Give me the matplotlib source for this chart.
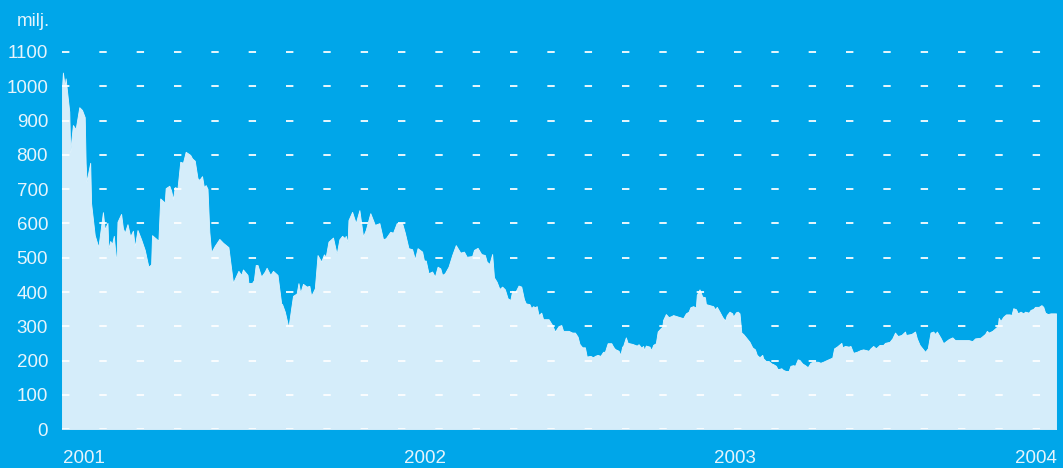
import matplotlib.pyplot as plt

# days since start of 2001 and value (milj.)
days = [0, 1, 3, 4, 8, 9, 12, 15, 19, 22, 25, 26, 27, 31, 32, 36, 40, 45, 47, 50,
        51, 53, 55, 57, 59, 60, 61, 65, 67, 69, 72, 75, 78, 80, 83, 87, 91, 95, 98, 99,
        106, 108, 113, 114, 118, 120, 122, 124, 127, 130, 133, 136, 141, 143, 146, 149, 151, 154, 156, 158,
        160, 162, 164, 168, 173, 177, 183, 185, 188, 194, 197, 199, 204, 205, 209, 211, 213, 215, 219, 223,
        225, 229, 232, 237, 241, 242, 245, 249, 252, 254, 258, 260, 262, 265, 269, 272, 274, 278, 281, 285,
        288, 290, 293, 298, 302, 305, 308, 311, 312, 314, 315, 319, 323, 327, 331, 334, 339, 344, 349, 353,
        356, 361, 364, 368, 374, 377, 381, 385, 388, 391, 396, 398, 400, 403, 407, 410, 413, 416, 418, 421,
        425, 429, 433, 438, 442, 445, 451, 453, 457, 461, 465, 467, 470, 473, 475, 478, 481, 484, 487, 490,
        493, 495, 498, 502, 505, 508, 510, 514, 516, 518, 520, 522, 524, 527, 529, 535, 539, 542, 546, 549,
        551, 557, 561, 564, 567, 569, 572, 575, 577, 581, 584, 586, 589, 592, 595, 597, 600, 604, 606, 608,
        612, 614, 616, 617, 620, 622, 627, 632, 634, 637, 639, 640, 642, 646, 648, 650, 653, 655, 658, 660,
        661, 664, 667, 670, 672, 678, 683, 686, 689, 691, 694, 697, 698, 701, 704, 707, 708, 712, 716, 718,
        720, 723, 726, 729, 731, 734, 737, 738, 741, 743, 745, 747, 749, 753, 756, 759, 762, 764, 767, 770,
        771, 774, 777, 780, 782, 785, 787, 791, 793, 796, 799, 801, 804, 806, 809, 811, 814, 817, 820, 823,
        826, 831, 834, 837, 841, 847, 849, 852, 857, 858, 861, 865, 867, 870, 874, 878, 881, 887, 889, 892,
        895, 899, 903, 905, 910, 913, 916, 919, 923, 927, 928, 934, 938, 940, 943, 946, 949, 952, 955, 958,
        960, 962, 966, 969, 975, 979, 982, 990, 997, 1001, 1004, 1010, 1015, 1017, 1019, 1023, 1026, 1029, 1030, 1032,
        1035, 1038, 1042, 1044, 1046, 1049, 1051, 1054, 1057, 1059, 1063, 1065, 1068, 1070, 1074, 1077, 1079, 1081, 1084, 1087,
        1093]
values = [995, 1040, 999, 1023, 926, 809, 887, 875, 939, 931, 910, 776, 722, 777, 659, 566, 531, 633, 583, 602,
          525, 549, 540, 564, 503, 501, 605, 628, 586, 573, 598, 562, 579, 532, 581, 554, 523, 474, 481, 566,
          550, 673, 661, 703, 710, 696, 671, 706, 703, 780, 777, 809, 800, 790, 783, 732, 727, 738, 706, 712,
          701, 576, 516, 535, 555, 544, 531, 489, 427, 462, 450, 466, 450, 426, 427, 435, 479, 479, 445, 460,
          471, 450, 462, 450, 367, 365, 343, 297, 353, 389, 396, 426, 398, 424, 416, 418, 389, 411, 508, 489,
          510, 503, 547, 559, 511, 554, 564, 557, 564, 544, 610, 634, 601, 639, 562, 581, 630, 596, 601, 554,
          557, 576, 573, 601, 601, 573, 528, 525, 496, 528, 518, 492, 492, 455, 460, 445, 474, 469, 450, 455,
          474, 508, 537, 515, 518, 503, 505, 523, 529, 511, 508, 489, 482, 511, 443, 430, 409, 416, 408, 382,
          377, 404, 398, 419, 416, 379, 367, 365, 353, 359, 356, 359, 333, 340, 321, 321, 304, 285, 301, 304,
          287, 287, 282, 282, 270, 249, 239, 239, 212, 214, 210, 214, 217, 214, 226, 226, 251, 251, 241, 234,
          229, 217, 241, 243, 268, 252, 249, 244, 248, 238, 243, 231, 244, 241, 231, 246, 251, 285, 294, 299,
          319, 336, 327, 330, 333, 328, 324, 338, 343, 356, 359, 355, 392, 408, 387, 385, 365, 362, 359, 350,
          357, 343, 328, 317, 333, 343, 338, 328, 341, 343, 338, 282, 278, 265, 255, 239, 233, 217, 210, 217,
          207, 199, 199, 192, 190, 185, 175, 178, 173, 170, 170, 185, 187, 185, 204, 202, 192, 187, 181, 194,
          197, 197, 194, 197, 202, 209, 236, 241, 252, 239, 243, 241, 243, 223, 226, 231, 233, 229, 236, 243,
          236, 246, 246, 252, 255, 265, 282, 272, 275, 285, 275, 278, 285, 265, 246, 236, 226, 236, 282, 285,
          278, 285, 267, 251, 263, 268, 260, 260, 260, 257, 265, 267, 278, 287, 282, 287, 294, 301, 325, 316,
          328, 335, 335, 333, 353, 350, 338, 343, 338, 343, 340, 348, 351, 357, 357, 362, 357, 340, 336, 338,
          338]

y_ticks = [0, 100, 200, 300, 400, 500, 600, 700, 800, 900, 1000, 1100]
year_labels = ['2001', '2002', '2003', '2004']
year_pos = [1, 399, 740, 1094]
year_align = ['left', 'center', 'center', 'right']

bg = '#00a6e9'
fill = '#d5edfa'
txt = '#e6f4fc'

plt.rcParams['font.family'] = ['Liberation Sans', 'DejaVu Sans']

fig = plt.figure(figsize=(10.63, 4.68), dpi=100, facecolor=bg)
ax = fig.add_axes([62 / 1063, (468 - 429.3) / 468, 994 / 1063, (429.3 - 41.7) / 468])
ax.set_facecolor(bg)

ax.fill_between(days, values, 0, color=fill, lw=0.6, edgecolor='#e3f3fc', zorder=2)

for t in y_ticks:
    ax.axhline(t, color='white', alpha=0.9, lw=1.4, dashes=(3.8, 15.4), zorder=3)

ax.set_xlim(0, 1093)
ax.set_ylim(0, 1130)
ax.set_yticks(y_ticks)
ax.set_yticklabels([str(t) for t in y_ticks], color=txt, fontsize=13.5)
ax.tick_params(axis='y', length=0, pad=10)
ax.set_xticks([])
for s in ax.spines.values():
    s.set_visible(False)

for lab, p, ha in zip(year_labels, year_pos, year_align):
    ax.text(p, -0.075, lab, transform=ax.get_xaxis_transform(), ha=ha, va='center',
            color=txt, fontsize=13.5)

fig.text(17 / 1063, 1 - 21 / 468, 'milj.', color=txt, fontsize=13.5, ha='left', va='center')

fig.savefig('out.png', dpi=100, facecolor=bg)
